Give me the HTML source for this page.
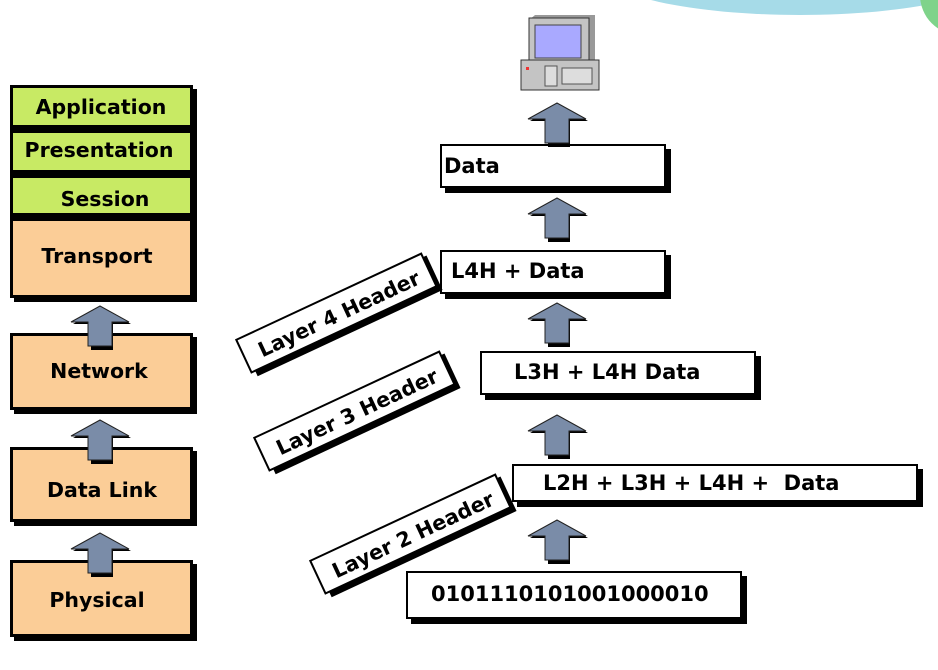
<!DOCTYPE html>
<html><head><style>
body{margin:0;background:#fff;}
svg{display:block;font-family:"DejaVu Sans","Liberation Sans",sans-serif;font-weight:bold;}
</style></head><body>
<svg width="938" height="670" viewBox="0 0 938 670" xmlns="http://www.w3.org/2000/svg">
<defs>
<g id="arr">
<path d="M-9,4 L-9,-22 L-27,-22 L2,-38 L31,-22 L13,-22 L13,4 Z" fill="#000"/>
<path d="M-12,0 L-12,-24 L-29,-24 L0,-40 L29,-24 L12,-24 L12,0 Z" fill="#7a8ca8" stroke="#222" stroke-width="1"/>
</g>
</defs>
<ellipse cx="800" cy="-30" rx="200" ry="45" fill="#a6dbe8"/>
<circle cx="960" cy="-5" r="40" fill="#7fd38a"/>

<rect x="14" y="89" width="183" height="213" fill="#000"/>
<rect x="10" y="85" width="183" height="213" fill="#000"/>
<rect x="13" y="88" width="177" height="37" fill="#c8ea64"/>
<rect x="13" y="133" width="177" height="37" fill="#c8ea64"/>
<rect x="13" y="178" width="177" height="35" fill="#c8ea64"/>
<rect x="13" y="221" width="177" height="74" fill="#fbcd97"/>
<g font-size="20.5" text-anchor="middle" fill="#000">
<text x="101" y="114">Application</text>
<text x="99" y="157">Presentation</text>
<text x="105" y="206">Session</text>
<text x="97" y="263">Transport</text>
</g>
<g font-size="20.5" text-anchor="middle">
<rect x="14" y="337" width="183" height="77" fill="#000"/>
<rect x="10" y="333" width="183" height="77" fill="#000"/>
<rect x="13" y="336" width="177" height="71" fill="#fbcd97"/>
<text x="99" y="378">Network</text>
<rect x="14" y="451" width="183" height="75" fill="#000"/>
<rect x="10" y="447" width="183" height="75" fill="#000"/>
<rect x="13" y="450" width="177" height="69" fill="#fbcd97"/>
<text x="102" y="497">Data Link</text>
<rect x="14" y="564" width="183" height="77" fill="#000"/>
<rect x="10" y="560" width="183" height="77" fill="#000"/>
<rect x="13" y="563" width="177" height="71" fill="#fbcd97"/>
<text x="97" y="607">Physical</text>
</g>
<use href="#arr" x="100" y="346"/>
<use href="#arr" x="100" y="460"/>
<use href="#arr" x="100" y="573"/>

<g>
<path d="M529,20 L535,15 L595,15 L595,62 L583,66 Z" fill="#999"/>
<rect x="529" y="18" width="60" height="48" fill="#c4c4c4" stroke="#333"/>
<rect x="535" y="25" width="46" height="33" fill="#a9a9ff" stroke="#444"/>
<rect x="521" y="60" width="78" height="30" fill="#c4c4c4" stroke="#333"/>
<rect x="545" y="66" width="12" height="20" fill="#ddd" stroke="#555"/>
<rect x="562" y="68" width="30" height="16" fill="#ddd" stroke="#555"/>
<rect x="526" y="67" width="3" height="3" fill="#e33"/>
</g>

<g stroke="#000" stroke-width="2">
<rect x="445" y="149" width="226" height="44" fill="#000" stroke="none"/>
<rect x="441" y="145" width="224" height="42" fill="#fff"/>
<rect x="445" y="255" width="226" height="44" fill="#000" stroke="none"/>
<rect x="441" y="251" width="224" height="42" fill="#fff"/>
<rect x="485" y="356" width="276" height="44" fill="#000" stroke="none"/>
<rect x="481" y="352" width="274" height="42" fill="#fff"/>
<rect x="517" y="469" width="406" height="38" fill="#000" stroke="none"/>
<rect x="513" y="465" width="404" height="36" fill="#fff"/>
<rect x="411" y="576" width="336" height="48" fill="#000" stroke="none"/>
<rect x="407" y="572" width="334" height="46" fill="#fff"/>
</g>
<g font-size="21">
<text x="444" y="173">Data</text>
<text x="451" y="278">L4H + Data</text>
<text x="514" y="379">L3H + L4H Data</text>
<text x="543" y="490" xml:space="preserve">L2H + L3H + L4H +  Data</text>
<text x="431" y="601">0101110101001000010</text>
</g>
<use href="#arr" x="557" y="143"/>
<use href="#arr" x="557" y="238"/>
<use href="#arr" x="557" y="343"/>
<use href="#arr" x="557" y="455"/>
<use href="#arr" x="557" y="560"/>

<g font-size="20.5" text-anchor="middle">
<g transform="translate(339,314) rotate(-25)">
<rect x="-100" y="-16" width="204" height="38" fill="#000"/>
<rect x="-104" y="-20" width="204" height="36" fill="#fff" stroke="#000" stroke-width="2"/>
<text x="0" y="7">Layer 4 Header</text>
</g>
<g transform="translate(357,412) rotate(-25)">
<rect x="-100" y="-16" width="204" height="38" fill="#000"/>
<rect x="-104" y="-20" width="204" height="36" fill="#fff" stroke="#000" stroke-width="2"/>
<text x="0" y="7">Layer 3 Header</text>
</g>
<g transform="translate(413,535) rotate(-25)">
<rect x="-100" y="-16" width="204" height="38" fill="#000"/>
<rect x="-104" y="-20" width="204" height="36" fill="#fff" stroke="#000" stroke-width="2"/>
<text x="0" y="7">Layer 2 Header</text>
</g>
</g>
</svg>
</body></html>
